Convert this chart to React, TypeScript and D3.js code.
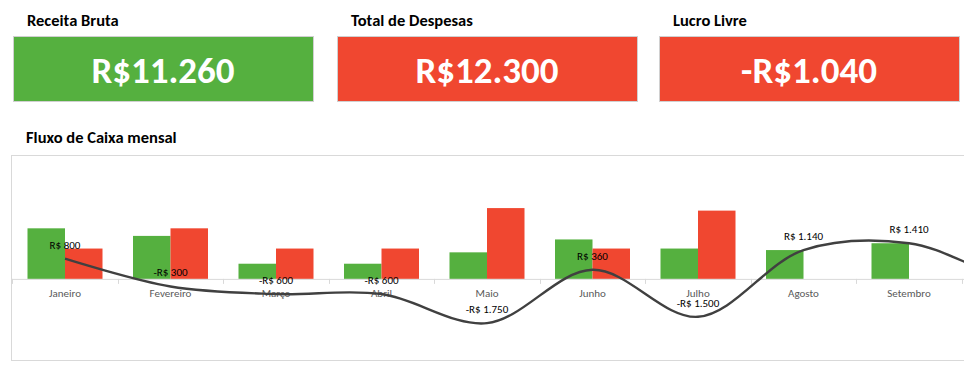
import React from "react";
import * as d3 from "d3";

const months = ["Janeiro", "Fevereiro", "Março", "Abril", "Maio", "Junho", "Julho", "Agosto", "Setembro", "Outubro", "Novembro", "Dezembro"];
const receitas = [2000, 1700, 600, 600, 1050, 1560, 1200, 1140, 1410, 0, 0, 0];
const despesas = [1200, 2000, 1200, 1200, 2800, 1200, 2700, 0, 0, 0, 0, 0];
const saldo = [800, -300, -600, -600, -1750, 360, -1500, 1140, 1410, 0, 0, 0];
const kpiTitles = ["Receita Bruta", "Total de Despesas", "Lucro Livre"];
const kpiValues = ["R$11.260", "R$12.300", "-R$1.040"];

const GREEN = "#55B03F";
const RED = "#F04730";
const FONT = "Carlito, Calibri, Lato, 'Open Sans', sans-serif";

const fmt = (v: number) => {
  const s = d3.format(",.0f")(Math.abs(v)).replace(/,/g, ".");
  return (v < 0 ? "-" : "") + "R$ " + s;
};

export default function App() {
  const W = 964, H = 370;
  const x = d3.scaleBand<string>().domain(months).range([12.25, 12.25 + 105.5 * months.length]).paddingInner(0).paddingOuter(0);
  const y = d3.scaleLinear().domain([-3000, 4500]).range([354.75, 165.1]);
  const bw = 37.5;
  const cx = (m: string) => (x(m) as number) + x.bandwidth() / 2;
  const line = d3.line<number>().x((_, i) => cx(months[i])).y((d) => y(d)).curve(d3.curveCatmullRom.alpha(0.5));
  const kpiX = [13, 337, 659];
  const kpiColors = [GREEN, RED, RED];
  const visible = months.filter((m) => cx(m) + 30 < W);
  return (
    <svg width={W} height={H} style={{ position: "absolute", left: 0, top: 0, fontFamily: FONT }}>
      <rect x={0} y={0} width={W} height={H} fill="#fff" />
      {kpiTitles.map((t, i) => (
        <g key={t}>
          <text x={kpiX[i] + 14} y={26} fontSize={16.5} fontWeight="bold" fill="#000">{t}</text>
          <rect x={kpiX[i] + 0.5} y={36.5} width={300} height={65} fill={kpiColors[i]} stroke="#d0d0d0" strokeWidth={1} />
          <text x={kpiX[i] + 150} y={83} fontSize={37} fontWeight="bold" fill="#fff" textAnchor="middle">{kpiValues[i]}</text>
        </g>
      ))}
      <text x={26} y={143} fontSize={16.5} fontWeight="bold" fill="#000">Fluxo de Caixa mensal</text>
      <rect x={11.5} y={155.5} width={1000} height={205} fill="#fff" stroke="#d9d9d9" strokeWidth={1} />
      {months.map((m, i) => (
        <g key={m}>
          {receitas[i] > 0 && <rect x={cx(m) - bw} y={y(receitas[i])} width={bw} height={y(0) - y(receitas[i])} fill={GREEN} />}
          {despesas[i] > 0 && <rect x={cx(m)} y={y(despesas[i])} width={bw} height={y(0) - y(despesas[i])} fill={RED} />}
        </g>
      ))}
      <line x1={12} x2={W} y1={y(0) + 0.5} y2={y(0) + 0.5} stroke="#d9d9d9" strokeWidth={1} />
      {months.map((m) => (
        <line key={"t" + m} x1={Math.round(x(m) as number) + 0.5} x2={Math.round(x(m) as number) + 0.5} y1={y(0)} y2={y(0) + 5} stroke="#d9d9d9" />
      ))}
      {visible.map((m) => (
        <text key={"l" + m} x={cx(m)} y={297} fontSize={11} fill="#595959" textAnchor="middle">{m}</text>
      ))}
      <path d={line(saldo) || ""} fill="none" stroke="#404040" strokeWidth={2.4} />
      {visible.map((m, i) => (
        <text key={"d" + m} x={cx(m)} y={y(saldo[i]) - 10} fontSize={11} fill="#000" textAnchor="middle">{fmt(saldo[i])}</text>
      ))}
    </svg>
  );
}
